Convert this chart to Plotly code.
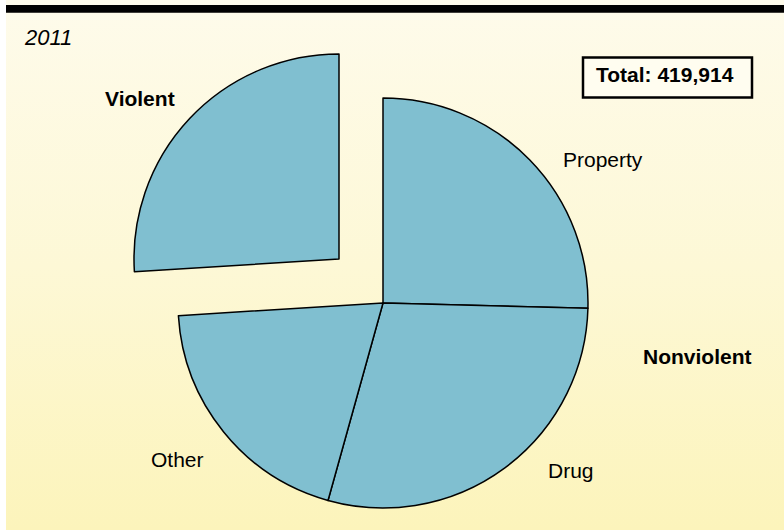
import plotly.graph_objects as go

# ---- data ----
labels = ["Property", "Drug", "Other", "Violent"]
values = [106700, 121400, 82700, 109100]
group_labels = ["Violent", "Nonviolent"]
total_label = "Total: 419,914"
year_label = "2011"

W, H = 784, 530


def px(x):
    return x / W


def py(y):
    return 1 - y / H


fill = "#80bfd0"
clear = "rgba(0,0,0,0)"
font_family = "Liberation Sans, Arial, Helvetica, sans-serif"

fig = go.Figure()

# background panel with vertical gradient
fig.add_trace(go.Scatter(
    x=[px(6), 1, 1, px(6), px(6)], y=[0, 0, 1, 1, 0],
    mode="lines", line=dict(width=0), fill="toself",
    fillgradient=dict(type="vertical", start=0, stop=1,
                      colorscale=[[0, "#fcf4bb"], [0.5, "#fdf8d6"], [1, "#fefbeb"]]),
    hoverinfo="skip", showlegend=False,
))

# main pie (Violent slice hidden here)
fig.add_trace(go.Pie(
    labels=labels, values=values, sort=False, direction="clockwise", rotation=0,
    marker=dict(colors=[fill, fill, fill, clear],
                line=dict(color=["black", "black", "black", clear], width=[1.5, 1.5, 1.5, 0])),
    textinfo="none", hoverinfo="label+value", showlegend=False,
    domain=dict(x=[px(178), px(588)], y=[py(508), py(98)]),
))

# exploded Violent slice
fig.add_trace(go.Pie(
    labels=labels, values=values, sort=False, direction="clockwise", rotation=0,
    marker=dict(colors=[clear, clear, clear, fill],
                line=dict(color=[clear, clear, clear, "black"], width=[0, 0, 0, 1.5])),
    textinfo="none", hoverinfo="label+value", showlegend=False,
    domain=dict(x=[px(134), px(544)], y=[py(464), py(54)]),
))

annotations = [
    dict(text=year_label, x=px(22), y=py(38), xanchor="left", yanchor="middle",
         font=dict(size=22, style="italic", color="black", family=font_family)),
    dict(text="<b>%s</b>" % group_labels[0], x=px(140), y=py(99), xanchor="center", yanchor="middle",
         font=dict(size=21, color="black", family=font_family)),
    dict(text="<b>%s</b>" % group_labels[1], x=px(697.5), y=py(356), xanchor="center", yanchor="middle",
         font=dict(size=21, color="black", family=font_family)),
    dict(text=labels[0], x=px(602.5), y=py(160), xanchor="center", yanchor="middle",
         font=dict(size=21, color="black", family=font_family)),
    dict(text=labels[1], x=px(571), y=py(470), xanchor="center", yanchor="middle",
         font=dict(size=21, color="black", family=font_family)),
    dict(text=labels[2], x=px(177), y=py(459.5), xanchor="center", yanchor="middle",
         font=dict(size=21, color="black", family=font_family)),
    dict(text="<b>%s</b>" % total_label, x=px(665), y=py(75), xanchor="center", yanchor="middle",
         font=dict(size=21, color="black", family=font_family)),
]
for a in annotations:
    a.update(xref="paper", yref="paper", showarrow=False)

shapes = [
    dict(type="rect", xref="paper", yref="paper", x0=px(6), x1=1, y0=py(12.7), y1=py(5),
         fillcolor="black", line=dict(width=0), layer="above"),
    dict(type="rect", xref="paper", yref="paper", x0=px(583), x1=px(752), y0=py(97.5), y1=py(57.5),
         fillcolor="#fffdf0", line=dict(color="black", width=2.5), layer="above"),
]

fig.update_layout(
    width=W, height=H,
    margin=dict(l=0, r=0, t=0, b=0),
    paper_bgcolor="white", plot_bgcolor="rgba(0,0,0,0)",
    xaxis=dict(visible=False, range=[0, 1], fixedrange=True),
    yaxis=dict(visible=False, range=[0, 1], fixedrange=True),
    annotations=annotations, shapes=shapes,
    showlegend=False,
)

fig.write_html(
    "out.html",
    config={"displayModeBar": False},
    post_script="document.body.style.margin='0px';document.body.style.overflow='hidden';",
)
